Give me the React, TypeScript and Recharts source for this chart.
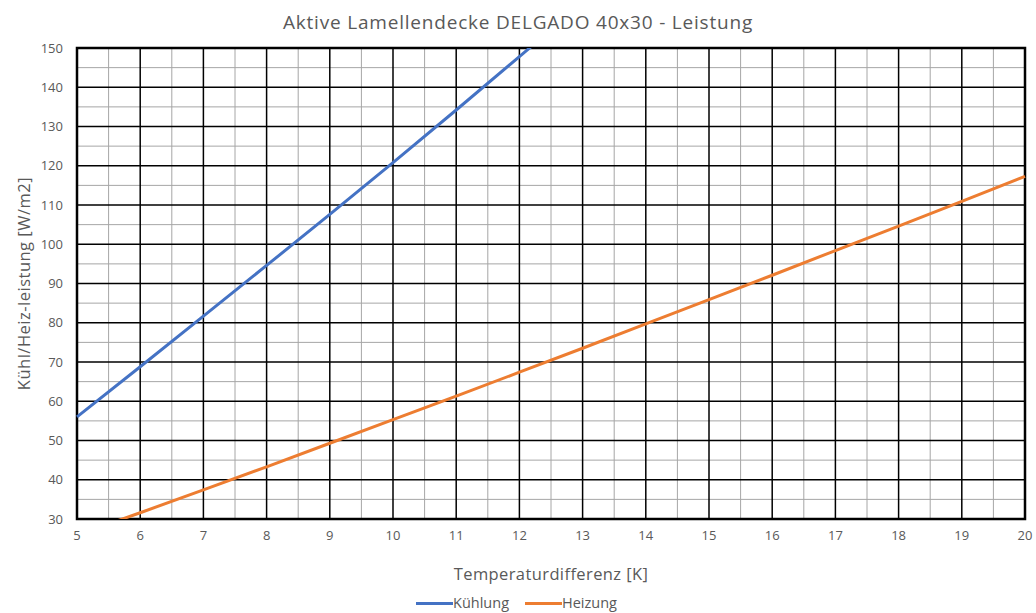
import React from "react";
import {
  LineChart,
  Line,
  XAxis,
  YAxis,
  CartesianGrid,
  ReferenceArea,
  Legend,
} from "recharts";

const temps = [5, 6, 7, 8, 9, 10, 11, 12, 13, 14, 15, 16, 17, 18, 19, 20];
const kuehlung = [56, 68.8, 81.7, 94.6, 107.6, 120.8, 134.2, 147.8, 161.5, null, null, null, null, null, null, null];
const heizung = [25.9, 31.6, 37.4, 43.3, 49.3, 55.3, 61.3, 67.4, 73.5, 79.7, 85.9, 92.1, 98.4, 104.6, 110.9, 117.3];

const xTicks = [5, 6, 7, 8, 9, 10, 11, 12, 13, 14, 15, 16, 17, 18, 19, 20];
const yTicks = [30, 40, 50, 60, 70, 80, 90, 100, 110, 120, 130, 140, 150];
const xMinor = [5.5, 6.5, 7.5, 8.5, 9.5, 10.5, 11.5, 12.5, 13.5, 14.5, 15.5, 16.5, 17.5, 18.5, 19.5];
const yMinor = [35, 45, 55, 65, 75, 85, 95, 105, 115, 125, 135, 145];

const data = temps.map((t, i) => ({ t, kuehlung: kuehlung[i], heizung: heizung[i] }));

const font = "'Open Sans', sans-serif";
const grey = "#595959";

const legendItems = [
  { name: "Kühlung", color: "#4472C4" },
  { name: "Heizung", color: "#ED7D31" },
];

function MyLegend() {
  return (
    <div
      style={{
        display: "flex",
        justifyContent: "center",
        gap: 16,
        fontFamily: font,
        fontSize: 14.5,
        lineHeight: "18px",
        color: grey,
        paddingBottom: 1,
      }}
    >
      {legendItems.map((it) => (
        <div key={it.name} style={{ display: "flex", alignItems: "center" }}>
          <span style={{ display: "inline-block", width: 37, height: 3, background: it.color }} />
          <span>{it.name}</span>
        </div>
      ))}
    </div>
  );
}

export default function App() {
  return (
    <div style={{ position: "absolute", left: 0, top: 0, width: 1036, height: 613, background: "#fff" }}>
      <div
        style={{
          position: "absolute",
          top: 9,
          width: 1036,
          textAlign: "center",
          fontFamily: font,
          fontSize: 19,
          letterSpacing: 0.8,
          lineHeight: "26px",
          color: grey,
        }}
      >
        Aktive Lamellendecke DELGADO 40x30 - Leistung
      </div>
      <LineChart
        width={1036}
        height={613}
        data={data}
        margin={{ top: 48, right: 11, bottom: 0, left: 8 }}
      >
        <CartesianGrid stroke="#A6A6A6" strokeWidth={1} verticalValues={xMinor} horizontalValues={yMinor} />
        <CartesianGrid stroke="#000" strokeWidth={1.5} verticalValues={xTicks} horizontalValues={yTicks} />
        <ReferenceArea x1={5} x2={20} y1={30} y2={150} fill="none" stroke="#000" strokeWidth={2.5} />
        <XAxis
          dataKey="t"
          type="number"
          domain={[5, 20]}
          ticks={xTicks}
          tickLine={false}
          axisLine={false}
          tickSize={0}
          tickMargin={12}
          height={75}
          tick={{ fill: grey, fontSize: 13, fontFamily: font }}
          label={{
            value: "Temperaturdifferenz [K]",
            position: "insideBottom",
            offset: 14,
            fill: grey,
            fontSize: 16.5,
            letterSpacing: 0.4,
            fontFamily: font,
          }}
        />
        <YAxis
          type="number"
          domain={[30, 150]}
          ticks={yTicks}
          allowDataOverflow
          tickLine={false}
          axisLine={false}
          tickSize={0}
          tickMargin={14}
          width={69}
          tick={{ fill: grey, fontSize: 13, fontFamily: font }}
          label={{
            value: "Kühl/Heiz-leistung [W/m2]",
            angle: -90,
            position: "insideLeft",
            offset: 16,
            style: { textAnchor: "middle" },
            fill: grey,
            fontSize: 16.5,
            letterSpacing: 0.5,
            fontFamily: font,
          }}
        />
        <Line
          dataKey="kuehlung"
          name="Kühlung"
          stroke="#4472C4"
          strokeWidth={3}
          dot={false}
          isAnimationActive={false}
        />
        <Line
          dataKey="heizung"
          name="Heizung"
          stroke="#ED7D31"
          strokeWidth={3}
          dot={false}
          isAnimationActive={false}
        />
        <Legend verticalAlign="bottom" content={<MyLegend />} />
      </LineChart>
    </div>
  );
}
